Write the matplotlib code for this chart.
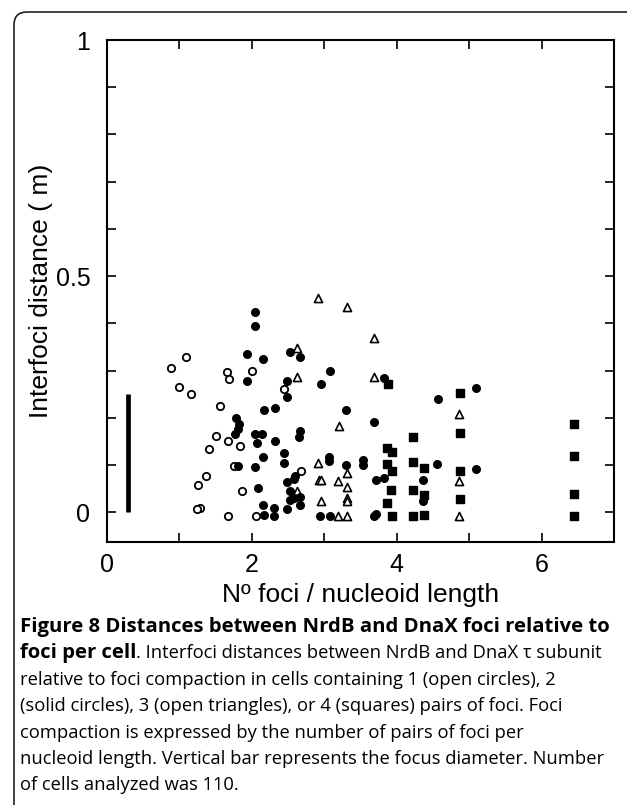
import matplotlib
matplotlib.use("Agg")
import matplotlib.pyplot as plt
from matplotlib.patches import FancyBboxPatch

# ── data ─────────────────────────────────────────────────────────────────────
# 1 pair of foci: open circles
open_x = [1.09, 0.88, 1.66, 1.68, 2.00, 0.99, 1.16, 1.56, 1.51, 1.67,
          1.84, 1.41, 1.75, 1.36, 1.26, 1.87, 1.29, 1.24, 1.67, 2.06,
          2.44, 2.68]
open_y = [0.329, 0.306, 0.296, 0.282, 0.299, 0.265, 0.251, 0.226, 0.162, 0.150,
          0.141, 0.134, 0.097, 0.077, 0.058, 0.044, 0.010, 0.006, -0.007, -0.009,
          0.261, 0.087]

# 2 pairs: solid circles
solid_x = [2.05, 2.05, 1.93, 2.15, 2.53, 2.66, 3.08, 1.93, 2.48, 2.95,
           2.48, 2.17, 2.32, 3.30, 3.82, 3.68, 4.57, 5.09, 1.78, 1.82,
           1.81, 1.77, 1.81, 2.67, 2.65, 2.05, 2.14, 2.07, 2.32, 2.15,
           2.45, 2.45, 2.05, 3.06, 3.06, 3.30, 3.53, 3.53, 4.56, 5.09,
           3.72, 3.82, 4.36, 4.36, 2.49, 2.58, 2.59, 2.08, 2.52, 2.66,
           2.52, 2.58, 2.67, 2.15, 2.49, 2.31, 2.31, 2.17, 2.94, 3.08,
           3.69, 3.72]
solid_y = [0.423, 0.395, 0.335, 0.325, 0.339, 0.329, 0.300, 0.278, 0.277, 0.272,
           0.244, 0.217, 0.221, 0.217, 0.285, 0.191, 0.240, 0.264, 0.200, 0.186,
           0.177, 0.165, 0.098, 0.173, 0.160, 0.165, 0.165, 0.147, 0.150, 0.117,
           0.126, 0.104, 0.095, 0.118, 0.109, 0.101, 0.110, 0.099, 0.102, 0.092,
           0.068, 0.072, 0.069, 0.023, 0.064, 0.070, 0.076, 0.051, 0.045, 0.033,
           0.025, 0.030, 0.016, 0.015, 0.006, 0.009, -0.009, -0.006, -0.008, -0.008,
           -0.007, -0.003]

# 3 pairs: open triangles
tri_x = [2.92, 3.32, 3.68, 2.62, 2.62, 3.68, 3.20, 4.86, 2.92, 3.32,
         2.93, 2.95, 3.19, 3.32, 3.32, 3.32, 2.95, 2.62, 3.19, 3.32,
         4.86, 4.86]
tri_y = [0.453, 0.435, 0.369, 0.347, 0.287, 0.286, 0.183, 0.209, 0.104, 0.083,
         0.069, 0.069, 0.066, 0.053, 0.030, 0.024, 0.023, 0.044, -0.008, -0.008,
         0.067, -0.008]

# 4 pairs: squares
sq_x = [3.88, 4.23, 3.87, 3.93, 3.87, 3.93, 4.23, 4.38, 3.92, 4.23,
        4.38, 3.87, 3.93, 4.23, 4.38, 4.88, 4.88, 4.88, 4.88, 6.45,
        6.45, 6.45, 6.45]
sq_y = [0.272, 0.160, 0.135, 0.127, 0.103, 0.088, 0.107, 0.093, 0.047, 0.047,
        0.037, 0.020, -0.008, -0.008, -0.005, 0.253, 0.167, 0.087, 0.028, 0.187,
        0.120, 0.038, -0.008]

# focus diameter bar
bar_x = 0.29
bar_y = [0.0, 0.25]

x_ticks = [0, 1, 2, 3, 4, 5, 6, 7]
x_ticklabels = ["0", "", "2", "", "4", "", "6", ""]
y_ticks = [0.0, 0.1, 0.2, 0.3, 0.4, 0.5, 0.6, 0.7, 0.8, 0.9, 1.0]
y_ticklabels = ["0", "", "", "", "", "0.5", "", "", "", "", "1"]

caption = [
    [("Figure 8 Distances between NrdB and DnaX foci relative to", "bold")],
    [("foci per cell", "bold"),
     (". Interfoci distances between NrdB and DnaX \u03c4 subunit", "normal")],
    [("relative to foci compaction in cells containing 1 (open circles), 2", "normal")],
    [("(solid circles), 3 (open triangles), or 4 (squares) pairs of foci. Foci", "normal")],
    [("compaction is expressed by the number of pairs of foci per", "normal")],
    [("nucleoid length. Vertical bar represents the focus diameter. Number", "normal")],
    [("of cells analyzed was 110.", "normal")],
]
CAPTION_SIZE = {"bold": 14.6, "normal": 13.2}

# ── figure ───────────────────────────────────────────────────────────────────
W, H = 627, 805
fig = plt.figure(figsize=(W / 100, H / 100), dpi=100)
ax = fig.add_axes([107 / W, 1 - 542 / H, (614 - 107) / W, (542 - 40) / H])

ax.plot([bar_x, bar_x], bar_y, color="black", lw=3.4, solid_capstyle="butt")
ax.scatter(open_x, open_y, s=28, marker="o", facecolor="white",
           edgecolor="black", linewidth=1.3, zorder=3)
ax.scatter(tri_x, tri_y, s=34, marker="^", facecolor="white",
           edgecolor="black", linewidth=1.2, zorder=3)
ax.scatter(solid_x, solid_y, s=30, marker="o", color="black", zorder=4)
ax.scatter(sq_x, sq_y, s=34, marker="s", color="black", zorder=5)

ax.set_xlim(0, 7)
ax.set_ylim(-0.063, 1)
ax.set_xticks(x_ticks)
ax.set_xticklabels(x_ticklabels)
ax.set_yticks(y_ticks)
ax.set_yticklabels(y_ticklabels)
ax.tick_params(direction="in", top=True, right=True, length=6.5, width=1.2,
               labelsize=18)
ax.tick_params(axis="x", pad=8)
ax.tick_params(axis="y", pad=12)
for lab in ax.get_xticklabels() + ax.get_yticklabels():
    lab.set_family("Liberation Sans")
for sp in ax.spines.values():
    sp.set_linewidth(1.5)

ax.set_xlabel("N\u00ba foci / nucleoid length", fontsize=19,
              family="Liberation Sans", labelpad=4)
ax.set_ylabel("Interfoci distance ( m)", fontsize=19,
              family="Liberation Sans", labelpad=2)

# rounded frame round the figure and caption
frame = FancyBboxPatch((14 / 100, -0.5), 7.0, H / 100 - 12 / 100 + 0.5,
                       boxstyle="round,pad=0,rounding_size=0.13",
                       transform=fig.dpi_scale_trans, facecolor="none",
                       edgecolor="#222222", lw=1.2)
fig.patches.append(frame)

# caption, one line at a time (bold runs followed by normal text)
renderer = fig.canvas.get_renderer()
y0, dy = 632, 26.4
for i, runs in enumerate(caption):
    x = 20
    yb = 1 - (y0 + i * dy) / H
    for txt, weight in runs:
        t = fig.text(x / W, yb, txt, fontsize=CAPTION_SIZE[weight],
                     family="Open Sans", weight=weight, va="baseline", ha="left")
        x = t.get_window_extent(renderer).x1

fig.savefig("out.png", dpi=100)
